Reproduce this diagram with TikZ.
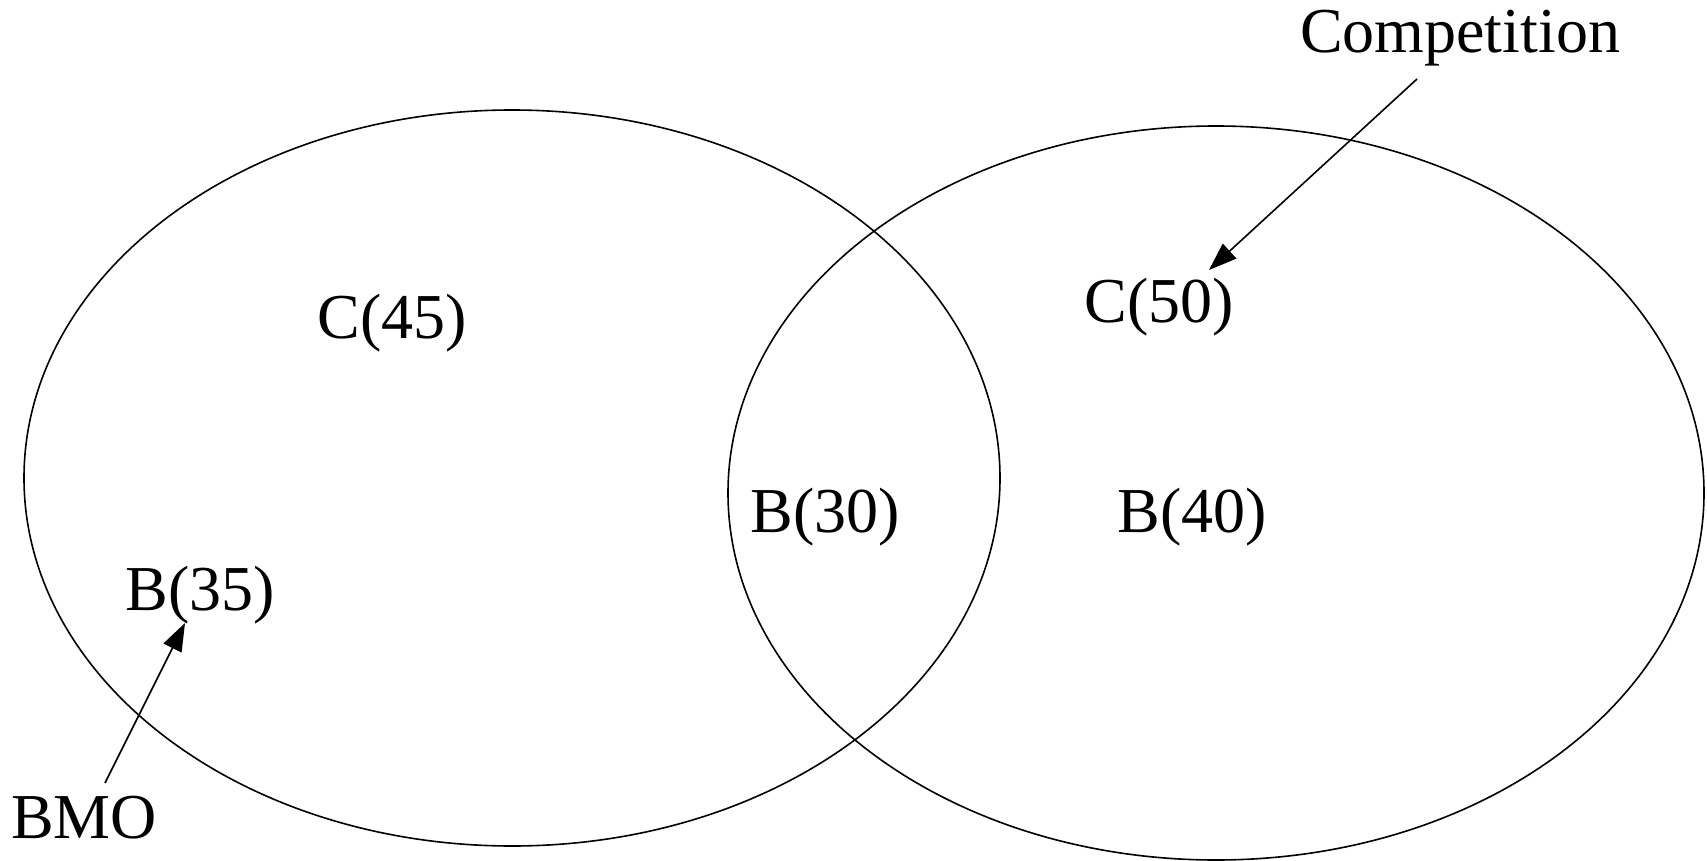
\documentclass[tikz,border=0pt]{standalone}
\usepackage{fontspec}
\setmainfont{Liberation Serif}
\usetikzlibrary{arrows.meta}
\begin{document}
\begin{tikzpicture}[x=1pt,y=-1pt,
  lbl/.style={font=\fontsize{64}{76}\selectfont, inner sep=0pt, anchor=center},
  ring/.style={draw=black, line width=1.6pt},
  pointer/.style={draw=black, line width=1.6pt, -{Triangle[length=28pt,width=20pt]}}]
\useasboundingbox (0,0) rectangle (1707,861);
\draw[ring] (512,478) ellipse [x radius=488, y radius=368];
\draw[ring] (1216,493) ellipse [x radius=488, y radius=367];
\node[lbl] (c45) at (392,323) {C(45)};
\node[lbl] (c50) at (1159,307) {C(50)};
\node[lbl] (b30) at (825,517) {B(30)};
\node[lbl] (b40) at (1192,517) {B(40)};
\node[lbl] (b35) at (200,595) {B(35)};
\node[lbl] (bmo) at (84,818) {BMO};
\node[lbl] (comp) at (1460,38) {Competition};
\coordinate (compstart) at (1417,79);
\coordinate (comptip) at (1209,270);
\coordinate (bmostart) at (105,783);
\coordinate (bmotip) at (185,623);
\draw[pointer] (compstart) -- (comptip);
\draw[pointer] (bmostart) -- (bmotip);
\end{tikzpicture}
\end{document}
